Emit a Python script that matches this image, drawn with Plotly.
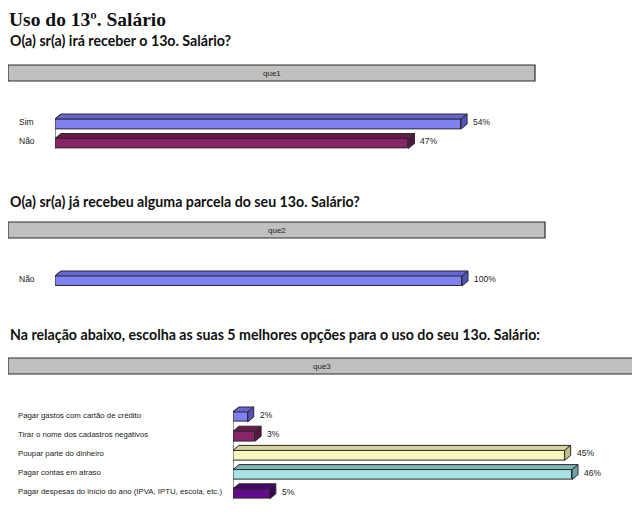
import plotly.graph_objects as go

# page body has an 8px margin, so the figure is placed at (8, 8)
OFF = 8
W, H = 632, 504

# --- data ---
que1_cats = ["Sim", "Não"]
que1_vals = [54, 47]

que2_cats = ["Não"]
que2_vals = [100]

que3_cats = [
    "Pagar gastos com cartão de crédito",
    "Tirar o nome dos cadastros negativos",
    "Poupar parte do dinheiro",
    "Pagar contas em atraso",
    "Pagar despesas do início do ano (IPVA, IPTU, escola, etc.)",
]
que3_vals = [2, 3, 45, 46, 5]

# front / top / side colours of the 3D bars (excel palette look)
FRONT = ["#8080f2", "#8a2468", "#faf8c0", "#a6e3e3", "#600c8c"]
TOP = ["#6565d6", "#6a1a4e", "#d6d39c", "#7fb5b5", "#45066a"]
SIDE = ["#5252c0", "#581540", "#c4c08a", "#6ea3a3", "#3a0559"]
EDGE = "#2a2a2a"

LABEL_FONT = dict(family="Liberation Sans, Arial", size=8.5, color="#222")


def fx(px):
    return (px - OFF) / W


def fy(py):
    return 1 - (py - OFF) / H


fig = go.Figure()
shapes = []
annotations = []


def add_section(n, cats, vals, x0px, pxper, xmax, c0, sp, label_x, lab_size):
    """one 3D horizontal bar block, n = subplot number"""
    xa = "x" if n == 1 else f"x{n}"
    ya = "y" if n == 1 else f"y{n}"
    k = len(cats)
    pad = 0.75
    top_px = c0 - pad * sp
    bot_px = c0 + (k - 1 + pad) * sp
    ys = list(range(k))
    bw = 10.0 / sp          # front face ~10px high
    dx = 6.0 / pxper        # depth to the right
    dy = 5.0 / sp           # depth upward

    fig.add_trace(go.Bar(
        x=vals, y=ys, orientation="h", width=bw,
        marker=dict(color=FRONT[:k], line=dict(color=EDGE, width=1)),
        xaxis=xa, yaxis=ya, hoverinfo="x+text", hovertext=cats,
        showlegend=False,
    ))

    for i, (v, yv) in enumerate(zip(vals, ys)):
        yt = yv - bw / 2
        yb = yv + bw / 2
        shapes.append(dict(
            type="path", xref=xa, yref=ya, layer="above",
            path=f"M 0,{yt} L {v},{yt} L {v + dx},{yt - dy} L {dx},{yt - dy} Z",
            fillcolor=TOP[i], line=dict(color=EDGE, width=1),
        ))
        shapes.append(dict(
            type="path", xref=xa, yref=ya, layer="above",
            path=f"M {v},{yt} L {v + dx},{yt - dy} L {v + dx},{yb - dy} L {v},{yb} Z",
            fillcolor=SIDE[i], line=dict(color=EDGE, width=1),
        ))
        annotations.append(dict(
            x=v, y=yv, xref=xa, yref=ya, text=f"{v}%", showarrow=False,
            xanchor="left", xshift=10, yshift=2, font=LABEL_FONT,
        ))
        annotations.append(dict(
            x=fx(label_x), y=yv, xref="paper", yref=ya, text=cats[i],
            showarrow=False, xanchor="left", yshift=2,
            font=dict(family="Liberation Sans, Arial", size=lab_size, color="#222"),
        ))

    # back wall edge at the left
    shapes.append(dict(
        type="line", xref=xa, yref=ya, x0=0, x1=dx,
        y0=-bw / 2, y1=-bw / 2 - dy, line=dict(color=EDGE, width=1),
    ))

    fig.layout[f"xaxis{'' if n == 1 else n}"] = dict(
        domain=[fx(x0px), min(1, fx(x0px + xmax * pxper))], range=[0, xmax],
        anchor=ya, visible=False, fixedrange=True,
    )
    fig.layout[f"yaxis{'' if n == 1 else n}"] = dict(
        domain=[max(0, fy(bot_px)), fy(top_px)], range=[k - 1 + pad, -pad],
        anchor=xa, showticklabels=False, showgrid=False, zeroline=False,
        showline=False, fixedrange=True,
    )
    # y axis line at x = 0
    shapes.append(dict(
        type="line", xref=xa, yref=ya, x0=0, x1=0,
        y0=-bw / 2, y1=k - 1 + bw / 2, line=dict(color=EDGE, width=1),
    ))


add_section(1, que1_cats, que1_vals, 55, 7.52, 70, 124, 19.5, 17, 8.5)
add_section(2, que2_cats, que2_vals, 55, 4.07, 130, 281, 20, 17, 8.5)
add_section(3, que3_cats, que3_vals, 233, 7.37, 54, 417, 19.2, 16, 7.8)

# grey header bars
for name, x1, y0, y1 in [("que1", 535, 65, 81), ("que2", 545, 222, 238), ("que3", 635, 358, 374)]:
    shapes.append(dict(
        type="rect", xref="paper", yref="paper",
        x0=fx(8), x1=fx(x1), y0=fy(y1), y1=fy(y0),
        fillcolor="#c0c0c0", line=dict(color=EDGE, width=1.2),
    ))
    annotations.append(dict(
        x=fx((8 + x1) / 2), y=fy((y0 + y1) / 2), xref="paper", yref="paper",
        yanchor="middle", text=name, showarrow=False,
        font=dict(family="Liberation Sans, Arial", size=8, color="#222"),
    ))

# titles
annotations.append(dict(
    x=fx(8), y=1, xref="paper", yref="paper", xanchor="left", yanchor="top",
    borderpad=0, text="<b>Uso do 13º. Salário</b>", showarrow=False,
    font=dict(family="Liberation Serif, DejaVu Serif", size=19.5, color="#111"),
))
for txt, ypx in [
    ("O(a) sr(a) irá receber o 13o. Salário?", 41),
    ("O(a) sr(a) já recebeu alguma parcela do seu 13o. Salário?", 201),
    ("Na relação abaixo, escolha as suas 5 melhores opções para o uso do seu 13o. Salário:", 334),
]:
    annotations.append(dict(
        x=fx(8), y=fy(ypx), xref="paper", yref="paper", xanchor="left", yanchor="middle",
        text=f"<b>{txt}</b>", showarrow=False,
        font=dict(family="Lato, Noto Sans", size=14.2, color="#111"),
    ))

fig.update_layout(
    width=W, height=H,
    margin=dict(l=0, r=0, t=0, b=0),
    paper_bgcolor="white", plot_bgcolor="rgba(0,0,0,0)",
    bargap=0, shapes=shapes, annotations=annotations,
    showlegend=False,
)

fig.write_html("out.html")
